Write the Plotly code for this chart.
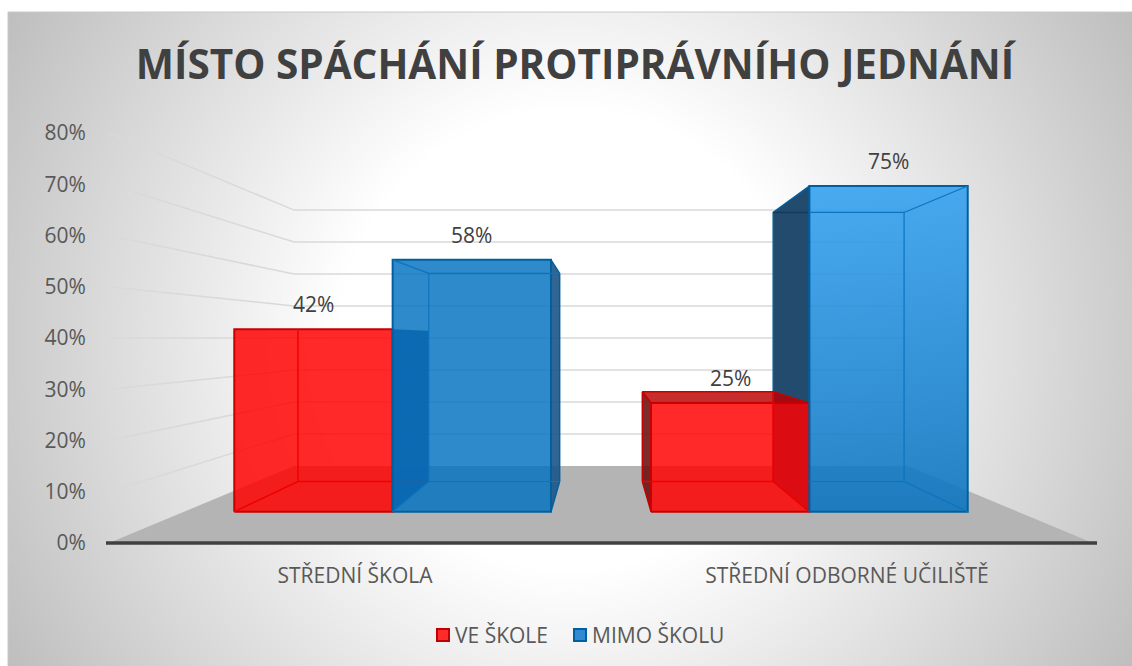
import numpy as np
import plotly.graph_objects as go

# data
categories = ["STŘEDNÍ ŠKOLA", "STŘEDNÍ ODBORNÉ UČILIŠTĚ"]
ve_skole = [42, 25]
mimo_skolu = [58, 75]
data_labels_ve = ["42%", "25%"]
data_labels_mimo = ["58%", "75%"]
tick_values = [0, 10, 20, 30, 40, 50, 60, 70, 80]
tick_labels = ["0%", "10%", "20%", "30%", "40%", "50%", "60%", "70%", "80%"]
series_names = ["VE ŠKOLE", "MIMO ŠKOLU"]

W, H = 1132, 666
FONT = "Open Sans"
TEXT = "#595959"

# perspective: everything is projected onto the front plane of the value axis
CX, HORIZON = 0.5, 40.0
S_FRONT, S_BACK, S_WALL = 0.847, 0.70, 0.624
BAR_W = 0.38


def project(x, v, s):
    return CX + s * (x - CX), HORIZON + s * (v - HORIZON)


def path(points):
    """[(x, v, s), ...] -> projected x list, y list"""
    pts = [project(*p) for p in points]
    return [p[0] for p in pts], [p[1] for p in pts]


fig = go.Figure()


def face(points, fill, edge=None, width=0, gradient=None):
    xs, ys = path(points + points[:1])
    kw = dict(fill="toself", fillcolor=fill) if gradient is None else dict(fill="toself", fillgradient=gradient)
    fig.add_trace(go.Scatter(
        x=xs, y=ys, mode="lines", xaxis="x2", yaxis="y2", hoverinfo="skip", showlegend=False,
        line=dict(color=edge or "rgba(0,0,0,0)", width=width), **kw,
    ))


def edges(segments, color, width):
    xs, ys = [], []
    for seg in segments:
        sx, sy = path(seg)
        xs += sx + [None]
        ys += sy + [None]
    fig.add_trace(go.Scatter(
        x=xs, y=ys, mode="lines", xaxis="x2", yaxis="y2", hoverinfo="skip", showlegend=False,
        line=dict(color=color, width=width),
    ))


# chart-area background: radial fade, cell centres kept half a cell inside the area
dx, dy = 8, 8
bg_x = np.arange(8 + dx / 2, W + dx, dx)
bg_y = np.arange(12 + dy / 2, H + dy, dy)
gx, gy = np.meshgrid(bg_x, bg_y)
r = np.hypot(gx - 570, gy - 339)
bg_z = np.clip(255 - (r - 230) * 65 / 420, 186, 255)
fig.add_trace(go.Heatmap(
    x=bg_x, y=bg_y, z=bg_z, zsmooth="best", zmin=0, zmax=255, showscale=False, hoverinfo="skip",
    colorscale=[[0, "rgb(0,0,0)"], [1, "rgb(255,255,255)"]],
))

# legend keys on the pixel-sized background axes
for px, fill, edge in [(443, "#ff2a2a", "#c00000"), (580, "#2e8bd4", "#00609f")]:
    fig.add_trace(go.Scatter(
        x=[px], y=[635], mode="markers", hoverinfo="skip", showlegend=False,
        marker=dict(symbol="square", size=12, color=fill, line=dict(color=edge, width=2)),
    ))

# walls and floor
grid_color = "#d9d9d9"
for v in tick_values[1:]:
    edges([[(-0.5, v, 1.0), (-0.5, v, S_WALL), (1.5, v, S_WALL)]], grid_color, 1.5)
face([(-0.5, 0, 1.0), (1.5, 0, 1.0), (1.5, 0, S_WALL), (-0.5, 0, S_WALL)], "#b4b4b4")

RED = "rgba(255,0,0,0.84)"
RED_EDGE = "#c80000"
RED_IN = "#f00000"
BLUE = "rgba(0,112,192,0.82)"
BLUE_EDGE = "#00609f"
BLUE_IN = "#0a74c0"

x_red = [i - BAR_W for i in range(len(categories))]
x_mid = [i for i in range(len(categories))]
x_blue = [i + BAR_W for i in range(len(categories))]
# back-plane x that lines up with the left front edge of the right-hand blue bar
x_hidden = CX + (x_mid[1] - CX) * S_FRONT / S_BACK

# left side of the right-hand blue bar, seen through the red one
v = mimo_skolu[1]
face([(x_mid[1], 0, S_BACK), (x_mid[1], v, S_BACK), (x_mid[1], v, S_FRONT), (x_mid[1], 0, S_FRONT)],
     "#234b6e", BLUE_EDGE, 1.5)
edges([[(x_mid[1], v, S_BACK), (x_hidden, v, S_BACK)]], "#123a5c", 1.5)

# red bars
v = ve_skole[0]
face([(x_mid[0], 0, S_FRONT), (x_mid[0], v, S_FRONT), (x_mid[0], v, S_BACK), (x_mid[0], 0, S_BACK)], "rgba(45,60,110,0.9)")
face([(x_red[0], 0, S_FRONT), (x_red[0], v, S_FRONT), (x_mid[0], v, S_FRONT), (x_mid[0], 0, S_FRONT)], RED, RED_EDGE, 2)
edges([[(x_red[0], v, S_BACK), (x_red[0], 0, S_BACK), (x_mid[0], 0, S_BACK)],
       [(x_red[0], 0, S_BACK), (x_red[0], 0, S_FRONT)]], RED_IN, 1.5)

v = ve_skole[1]
face([(x_red[1], 0, S_BACK), (x_red[1], v, S_BACK), (x_red[1], v, S_FRONT), (x_red[1], 0, S_FRONT)], "rgba(105,15,15,0.88)", RED_EDGE, 1.5)
face([(x_red[1], v, S_BACK), (x_mid[1], v, S_BACK), (x_mid[1], v, S_FRONT), (x_red[1], v, S_FRONT)], "rgba(185,0,0,0.82)", RED_EDGE, 1.5)
face([(x_red[1], 0, S_FRONT), (x_red[1], v, S_FRONT), (x_mid[1], v, S_FRONT), (x_mid[1], 0, S_FRONT)], RED, RED_EDGE, 2)
edges([[(x_red[1], 0, S_BACK), (x_mid[1], 0, S_BACK), (x_mid[1], v, S_BACK)],
       [(x_mid[1], 0, S_BACK), (x_mid[1], 0, S_FRONT)]], RED_IN, 1.5)

# blue bars
v = mimo_skolu[0]
face([(x_blue[0], 0, S_FRONT), (x_blue[0], v, S_FRONT), (x_blue[0], v, S_BACK), (x_blue[0], 0, S_BACK)], "rgba(25,85,135,0.9)", BLUE_EDGE, 1.5)
face([(x_mid[0], 0, S_FRONT), (x_mid[0], v, S_FRONT), (x_blue[0], v, S_FRONT), (x_blue[0], 0, S_FRONT)], BLUE, BLUE_EDGE, 2)
edges([[(x_mid[0], v, S_FRONT), (x_mid[0], v, S_BACK), (x_blue[0], v, S_BACK)],
       [(x_mid[0], v, S_BACK), (x_mid[0], 0, S_BACK), (x_blue[0], 0, S_BACK)],
       [(x_mid[0], 0, S_BACK), (x_mid[0], 0, S_FRONT)]], BLUE_IN, 1.2)

v = mimo_skolu[1]
face([(x_mid[1], 0, S_FRONT), (x_mid[1], v, S_FRONT), (x_blue[1], v, S_FRONT), (x_blue[1], 0, S_FRONT)], BLUE, BLUE_EDGE, 2,
     gradient=dict(type="vertical", colorscale=[[0, "rgba(10,115,190,0.88)"], [1, "rgba(50,160,240,0.88)"]]))
edges([[(x_hidden, v, S_BACK), (x_blue[1], v, S_BACK), (x_blue[1], 0, S_BACK), (x_hidden, 0, S_BACK)],
       [(x_blue[1], v, S_BACK), (x_blue[1], v, S_FRONT)],
       [(x_blue[1], 0, S_BACK), (x_blue[1], 0, S_FRONT)]], BLUE_IN, 1.2)

# data labels and legend text
annotations = []
for vals, labels, xs in [(ve_skole, data_labels_ve, x_red), (mimo_skolu, data_labels_mimo, x_mid)]:
    for v, lab, x in zip(vals, labels, xs):
        px_, py_ = project(x + BAR_W / 2, v, S_FRONT)
        annotations.append(dict(
            x=px_, y=py_, xref="x2", yref="y2", text=lab, showarrow=False, yshift=25,
            xanchor="center", yanchor="middle", font=dict(family=FONT, size=21, color="#404040"),
        ))
for px, name in zip([453, 590], series_names):
    annotations.append(dict(
        x=px, y=635, xref="x", yref="y", text=name, showarrow=False, xanchor="left", yanchor="middle",
        font=dict(family=FONT, size=21, color=TEXT),
    ))

fig.update_layout(
    width=W, height=H, margin=dict(l=0, r=0, t=0, b=0, pad=0),
    paper_bgcolor="white", plot_bgcolor="rgba(0,0,0,0)", showlegend=False,
    title=dict(
        text="<b>MÍSTO SPÁCHÁNÍ PROTIPRÁVNÍHO JEDNÁNÍ</b>", x=575 / W, xanchor="center",
        y=1 - 65 / H, yanchor="middle", font=dict(family=FONT, size=40.5, color="#404040"),
    ),
    xaxis=dict(domain=[0, 1], range=[0, W], visible=False, fixedrange=True, automargin=False),
    yaxis=dict(domain=[0, 1], range=[H, 0], visible=False, fixedrange=True, automargin=False),
    xaxis2=dict(
        domain=[109 / W, 1093 / W], range=[-0.5, 1.5], anchor="y2", showgrid=False, zeroline=False,
        tickmode="array", tickvals=list(range(len(categories))), ticktext=categories,
        ticks="outside", ticklen=14, tickcolor="rgba(0,0,0,0)", automargin=False,
        tickfont=dict(family=FONT, size=21, color=TEXT), fixedrange=True,
    ),
    yaxis2=dict(
        domain=[(H - 543) / H, (H - 133) / H], range=[0, 80], anchor="x2", showgrid=False, zeroline=False,
        tickmode="array", tickvals=tick_values, ticktext=tick_labels,
        ticks="outside", ticklen=18, tickcolor="rgba(0,0,0,0)", automargin=False,
        tickfont=dict(family=FONT, size=21, color=TEXT), fixedrange=True,
    ),
    annotations=annotations,
    shapes=[
        # base line of the value axis, on paper so it is not clipped by the subplot
        dict(type="line", xref="paper", yref="paper", x0=106 / W, x1=1097 / W, y0=(H - 543) / H, y1=(H - 543) / H,
             line=dict(color="#404040", width=3.5)),
        dict(type="line", xref="paper", yref="paper", x0=8 / W, x1=1, y0=1 - 12 / H, y1=1 - 12 / H,
             line=dict(color="#c8c8c8", width=1)),
        dict(type="line", xref="paper", yref="paper", x0=8 / W, x1=8 / W, y0=0, y1=1 - 12 / H,
             line=dict(color="#c8c8c8", width=1)),
    ],
)

fig.write_html("out.html", config=dict(displayModeBar=False), post_script="document.body.style.margin='0';")
